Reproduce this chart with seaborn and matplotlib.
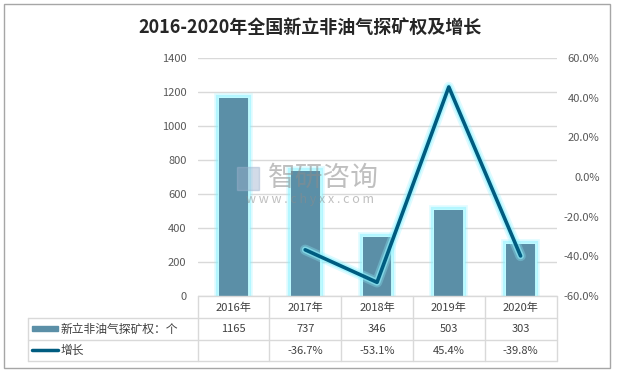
import numpy as np
import pandas as pd
import seaborn as sns
import matplotlib.pyplot as plt
import matplotlib.patheffects as pe
import matplotlib.transforms as mtransforms
from matplotlib.lines import Line2D
from matplotlib.patches import Rectangle

years = ['2016年', '2017年', '2018年', '2019年', '2020年']
counts = [1165, 737, 346, 503, 303]
growth = [np.nan, -36.7, -53.1, 45.4, -39.8]
growth_labels = ['', '-36.7%', '-53.1%', '45.4%', '-39.8%']
bar_name = '新立非油气探矿权：个'
line_name = '增长'

sns.set_style('white')
plt.rcParams['font.family'] = ['Noto Sans CJK SC', 'DejaVu Sans']

W, H = 619, 374
fig = plt.figure(figsize=(W / 100, H / 100), dpi=100)

def fx(px):
    return px / W

def fy(py):
    return 1 - py / H

# outer frame
fig.patches.append(Rectangle((fx(4), fy(368)), fx(606), (364) / H, transform=fig.transFigure,
                             fill=False, edgecolor='#A6A6A6', linewidth=1))

x0, x1, ytop, ybot = 197.5, 556.5, 58, 296
ax = fig.add_axes([fx(x0), fy(ybot), fx(x1 - x0), (ybot - ytop) / H])
ax2 = ax.twinx()

bar_col = '#5B8FA7'
line_col = '#005C80'
glow = '#8FF3FF'

df = pd.DataFrame({'year': years, 'count': counts, 'growth': growth, 'pos': np.arange(len(years))})

sns.barplot(data=df, x='year', y='count', ax=ax, color=bar_col, width=0.4, saturation=1, zorder=3)
for p in ax.patches:
    p.set_path_effects([pe.Stroke(linewidth=7, foreground=glow, alpha=0.25),
                        pe.Stroke(linewidth=4.5, foreground=glow, alpha=0.55),
                        pe.Stroke(linewidth=2, foreground='#C0FCFF', alpha=0.9),
                        pe.Normal()])
    p.set_linewidth(0)

sns.lineplot(data=df, x='pos', y='growth', ax=ax2, color=line_col, linewidth=2.6)
for ln in ax2.lines:
    ln.set_path_effects([pe.Stroke(linewidth=7.5, foreground=glow, alpha=0.3),
                         pe.Stroke(linewidth=4.8, foreground=glow, alpha=0.6),
                         pe.Normal()])
    ln.set_solid_capstyle('round')

ax.set_xlim(-0.5, 4.5)
ax.set_ylim(0, 1400)
ax.set_yticks(range(0, 1401, 200))
ax2.set_ylim(-60, 60)
ax2.set_yticks(range(-60, 61, 20))
ax2.set_yticklabels([f'{v:.1f}%' for v in range(-60, 61, 20)])

ax.grid(axis='y', color='#D9D9D9', linewidth=1, zorder=0)
ax.set_axisbelow(True)
ax.set_xlabel('')
ax.set_ylabel('')
ax2.set_xlabel('')
ax2.set_ylabel('')
ax.set_xticks([])
for a in (ax, ax2):
    for s in a.spines.values():
        s.set_visible(False)
    a.patch.set_alpha(0)
ax.tick_params(axis='y', length=0, pad=8, labelsize=8, labelcolor='#595959')
ax2.tick_params(axis='y', length=0, pad=31, labelsize=8, labelcolor='#595959')
for t in ax2.get_yticklabels():
    t.set_horizontalalignment('right')

# data table below the axes
grid_kw = dict(color='#D9D9D9', linewidth=1, transform=fig.transFigure)
rows = [296, 318, 340, 361]
fig.add_artist(Line2D([fx(x0), fx(x1)], [fy(296), fy(296)], **grid_kw))
for r in rows[1:]:
    fig.add_artist(Line2D([fx(28), fx(x1)], [fy(r), fy(r)], **grid_kw))
fig.add_artist(Line2D([fx(28), fx(28)], [fy(318), fy(361)], **grid_kw))
step = (x1 - x0) / len(years)
for i in range(len(years) + 1):
    xc = x0 + i * step
    fig.add_artist(Line2D([fx(xc), fx(xc)], [fy(296), fy(361)], **grid_kw))

trans = mtransforms.blended_transform_factory(ax.transData, fig.transFigure)
txt_kw = dict(ha='center', va='center', fontsize=8, color='#404040', transform=trans)
for i, yr in enumerate(years):
    ax.text(i, fy(307.5), yr, **txt_kw)
    ax.text(i, fy(329), str(counts[i]), **txt_kw)
    ax.text(i, fy(350.5), growth_labels[i], **txt_kw)

fig.patches.append(Rectangle((fx(32), fy(331)), fx(26), 5 / H, transform=fig.transFigure,
                             color=bar_col))
fig.add_artist(Line2D([fx(32), fx(58)], [fy(350), fy(350)], color=line_col, linewidth=2.5,
                      solid_capstyle='round', transform=fig.transFigure))
fig.text(fx(61), fy(329), bar_name, ha='left', va='center', fontsize=8.5, color='#404040')
fig.text(fx(61), fy(350), line_name, ha='left', va='center', fontsize=8.5, color='#404040')

# title
fig.text(fx(310), fy(27), '2016-2020年全国新立非油气探矿权及增长', ha='center', va='center',
         fontsize=13, fontweight='bold', color='#262626')

# watermark
fig.patches.append(Rectangle((fx(237), fy(190)), fx(22), 23 / H, transform=fig.transFigure,
                             color='#9DB1CC', alpha=0.45))
fig.text(fx(323), fy(178), '智研咨询', ha='center', va='center', fontsize=20,
         color='#8C8C8C', alpha=0.55)
fig.text(fx(310), fy(199), 'w w w . c h y x x . c o m', ha='center', va='center', fontsize=9,
         color='#8C8C8C', alpha=0.55)

fig.savefig('out.png', dpi=100)
